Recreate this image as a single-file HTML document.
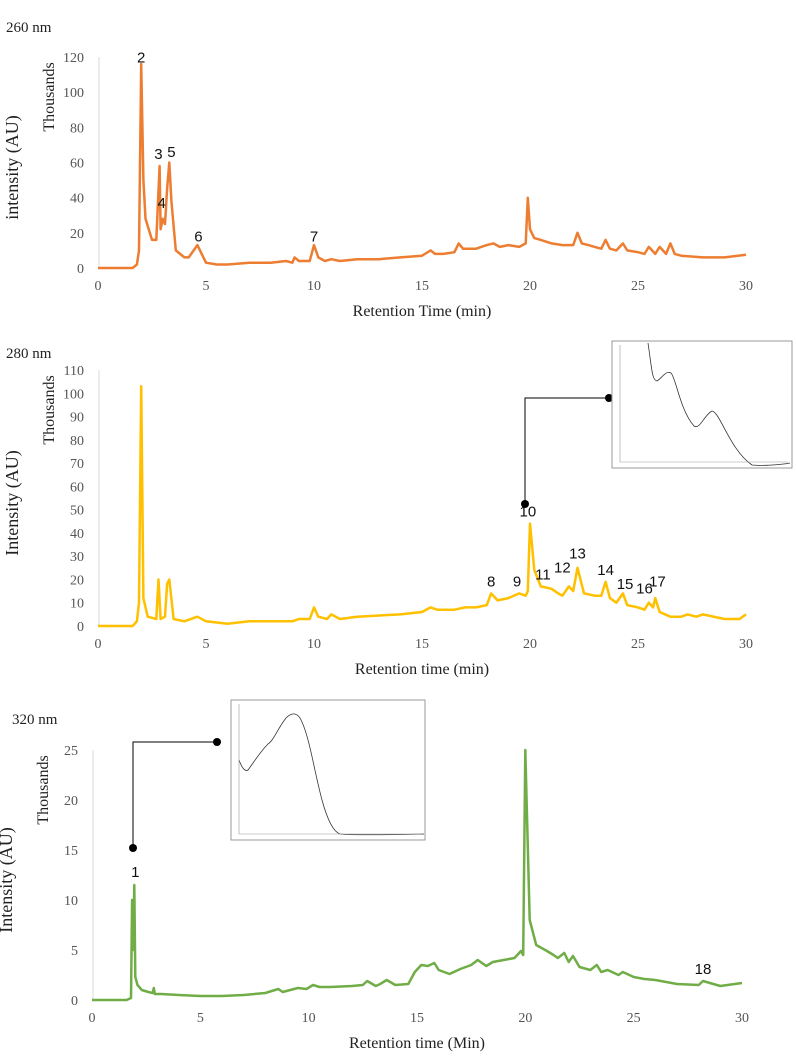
<!DOCTYPE html>
<html><head><meta charset="utf-8"><style>
body{margin:0;background:#fff;}
svg text{font-family:"Liberation Serif",serif;}
.lbl{font-family:"Liberation Sans",sans-serif;font-size:15px;}
</style></head><body>
<svg id="s" width="796" height="1059" xmlns="http://www.w3.org/2000/svg"></svg>
<script>
const xTicks=[0,5,10,15,20,25,30];
// 260 nm series [time, thousands]
const t260=[0,1.6,1.8,1.9,2.0,2.1,2.2,2.5,2.7,2.85,2.9,3.0,3.1,3.2,3.3,3.4,3.6,4.0,4.2,4.6,4.8,5.0,5.5,6.0,7,8,8.7,9.0,9.1,9.3,9.8,10.0,10.2,10.5,10.8,11.2,12,13,14,15,15.4,15.6,16,16.5,16.7,16.9,17.5,18,18.3,18.6,19,19.5,19.8,19.9,20.0,20.2,20.5,21,21.5,22,22.2,22.4,22.7,23,23.3,23.5,23.7,24,24.3,24.5,25,25.3,25.5,25.8,26,26.3,26.5,26.7,27,28,29,30];
const v260=[0,0,2,10,116,50,28,16,16,58,22,28,25,45,60,38,10,6,6,13,8,3,2,2,3,3,4,3,6,4,4,13,6,4,5,4,5,5,6,7,10,8,8,9,14,11,11,13,14,12,13,12,14,40,22,17,16,14,13,13,20,14,13,12,11,16,11,10,14,10,9,8,12,8,12,8,14,8,7,6,6,7.5];
// 280 nm series
const t280=[0,1.6,1.8,1.9,2.0,2.1,2.3,2.7,2.8,2.9,3.1,3.2,3.3,3.5,4.0,4.6,5.0,6,7,8,9.0,9.3,9.8,10.0,10.2,10.6,10.8,11.2,12,14,15,15.4,15.7,16.5,17,17.5,18,18.2,18.5,19,19.5,19.8,19.9,20.0,20.2,20.5,21,21.3,21.5,21.8,22.0,22.2,22.5,23,23.3,23.5,23.7,24,24.3,24.5,25,25.3,25.5,25.7,25.8,26,26.5,27,27.3,27.7,28,29,29.7,30];
const v280=[0,0,2,10,103,12,4,3,20,3,4,18,20,3,2,4,2,1,2,2,2,3,3,8,4,3,5,3,4,5,6,8,7,7,8,8,9,14,11,12,14,13,15,44,24,17,16,14,13,17,15,25,14,13,13,19,12,10,14,9,8,7,10,8,12,6,4,4,5,4,5,3,3,5];
// 320 nm series
const t320=[0,1.6,1.8,1.85,1.9,1.95,2.0,2.1,2.3,2.6,2.8,2.85,2.9,3.2,4,5,6,7,8,8.6,8.8,9.5,9.9,10.2,10.5,11,12,12.5,12.7,13.1,13.3,13.6,14,14.6,14.9,15.2,15.5,15.8,16,16.5,17,17.5,17.8,18.2,18.5,19,19.5,19.8,19.9,20.0,20.2,20.5,21,21.3,21.5,21.8,22,22.2,22.5,23,23.3,23.5,23.8,24.3,24.5,25,25.5,26,26.5,27,28,28.2,29,30];
const v320=[0,0,0.2,10,5,11.5,2.3,1.5,1.0,0.8,0.7,1.2,0.6,0.6,0.5,0.4,0.4,0.5,0.7,1.1,0.8,1.2,1.1,1.5,1.3,1.3,1.4,1.5,1.9,1.4,1.6,2.0,1.5,1.6,2.8,3.5,3.4,3.7,3.0,2.6,3.1,3.5,4.0,3.4,3.8,4.0,4.2,4.9,4.5,25,8,5.5,4.9,4.5,4.2,4.7,3.8,4.4,3.3,3.0,3.5,2.8,3.0,2.5,2.8,2.3,2.1,2.0,1.8,1.6,1.5,1.9,1.4,1.7];
const yTicks260=[0,20,40,60,80,100,120];
const yTicks280=[0,10,20,30,40,50,60,70,80,90,100,110];
const yTicks320=[0,5,10,15,20,25];

const S=document.getElementById('s');const NS='http://www.w3.org/2000/svg';
function mk(tag,at,txt){const e=document.createElementNS(NS,tag);for(const k in at)e.setAttribute(k,at[k]);if(txt!==undefined)e.textContent=txt;S.appendChild(e);return e;}
function chart(o){
 const sx=t=>o.x0+(o.x1-o.x0)*t/30, sy=v=>o.y0-(o.y0-o.y1)*v/o.ymax;
 const ax=mk('line',{x1:sx(0)+1,x2:sx(0)+1,y1:sy(o.ymax),y2:o.y0,stroke:'#d9d9d9','stroke-width':1});
 
 o.yt.forEach(v=>{const e=mk('text',{x:o.x0-14,y:sy(v)+5,'text-anchor':'end','font-size':14,fill:'#555'},v);});
 xTicks.forEach(v=>{const e=mk('text',{x:sx(v),y:o.y0+22,'text-anchor':'middle','font-size':14,fill:'#555'},v);});
 const d=o.t.map((t,i)=>(i?'L':'M')+sx(t).toFixed(1)+','+sy(o.v[i]).toFixed(1)).join('');
 const p=mk('path',{d:d,fill:'none',stroke:o.c,'stroke-width':2.5,'stroke-linejoin':'round'});
 
 let e=mk('text',{x:(o.x0+o.x1)/2,y:o.y0+48,'text-anchor':'middle','font-size':16,fill:'#222'},o.xl);
 
 e=mk('text',{x:0,y:0,'font-size':16,fill:'#222','text-anchor':'middle',transform:`translate(${o.x0-44},${sy(o.ymax)+40}) rotate(-90)`},'Thousands');
 
 e=mk('text',{x:0,y:0,'font-size':18,fill:'#222','text-anchor':'middle',transform:`translate(${o.x0-80},${(o.y0+sy(o.ymax))/2+5}) rotate(-90)`},o.yl);
 
 e=mk('text',{x:o.tx,y:o.ty,'font-size':15,fill:'#222'},o.title);
 
 o.pk.forEach(k=>{const e=mk('text',{x:sx(k[1]),y:sy(k[2]),'text-anchor':'middle',class:'lbl',fill:'#111'},k[0]);});
}
chart({id:'chart-260',x0:98,x1:746,y0:268,y1:57,ymax:120,yt:yTicks260,t:t260,v:v260,c:'#ed7d31',xl:'Retention Time (min)',yl:'intensity (AU)',title:'260 nm',tx:6,ty:32,
 pk:[['2',2.0,117],['3',2.8,62],['5',3.4,63],['4',2.95,34],['6',4.65,15],['7',10.0,15]]});
chart({id:'chart-280',x0:98,x1:746,y0:626,y1:370,ymax:110,yt:yTicks280,t:t280,v:v280,c:'#ffc000',xl:'Retention time (min)',yl:'Intensity (AU)',title:'280 nm',tx:6,ty:358,
 pk:[['8',18.2,17],['9',19.4,17],['10',19.9,47],['11',20.6,20],['12',21.5,23],['13',22.2,29],['14',23.5,22],['15',24.4,16],['16',25.3,14],['17',25.9,17]]});
chart({id:'chart-320',x0:92,x1:742,y0:1000,y1:750,ymax:25,yt:yTicks320,t:t320,v:v320,c:'#70ad47',xl:'Retention time (Min)',yl:'Intensity (AU)',title:'320 nm',tx:12,ty:724,
 pk:[['1',2.0,12.3],['18',28.2,2.6]]});
function conn(id,pts,end){const p=mk('polyline',{points:pts,fill:'none',stroke:'#000','stroke-width':1});
 end.forEach(c=>{const e=mk('circle',{cx:c[0],cy:c[1],r:4,fill:'#000'});});}
conn('uv-280','525,504 525,398 609,398',[[525,504],[609,398]]);
conn('uv-320','133,848 133,742 217,742',[[133,848],[217,742]]);
function inset(id,x,y,w,h,d){const r=mk('rect',{x:x,y:y,width:w,height:h,fill:'#fff',stroke:'#999','stroke-width':1});
 const p=mk('path',{d:d,fill:'none',stroke:'#333','stroke-width':0.8});
 const a=mk('path',{d:`M${x+8},${y+4}V${y+h-6}H${x+w-4}`,fill:'none',stroke:'#999','stroke-width':0.6});}
inset('uv-280',612,341,180,127,'M648,343C652,370 652,380 657,381C662,378 666,370 671,373C676,378 680,410 694,426C700,430 704,415 712,411C720,412 730,450 752,465C760,466 780,465 790,463');
inset('uv-320',231,700,194,140,'M239,760C242,768 245,772 248,770C254,762 260,752 268,744C274,740 278,728 286,718C292,712 298,712 302,722C310,740 314,770 322,800C328,822 334,832 340,834C350,835 380,835 424,834');
</script>
</body></html>
